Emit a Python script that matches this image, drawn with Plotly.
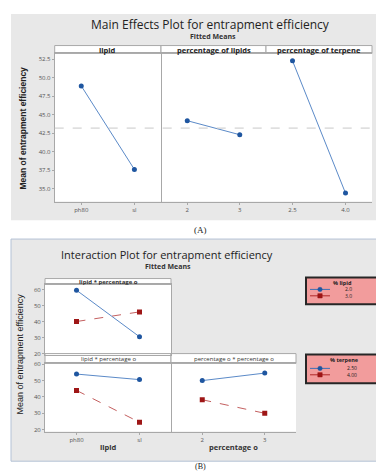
import plotly.graph_objects as go

W, H = 384, 471

# ---------------- data ----------------
# (A) main effects
lipid_levels = ["ph80", "sl"]
lipid_means = [48.9, 37.6]
pct_lipid_levels = ["2", "3"]
pct_lipid_means = [44.2, 42.3]
pct_terpene_levels = ["2.5", "4.0"]
pct_terpene_means = [52.3, 34.4]
grand_mean = 43.2
a_yticks = [35.0, 37.5, 40.0, 42.5, 45.0, 47.5, 50.0, 52.5]

# (B) interactions
b_lipid_levels = ["ph80", "sl"]
b_pct_levels = ["2", "3"]
lip_x_pctlip_20 = [59.5, 30.5]   # % lipid 2.0
lip_x_pctlip_30 = [40.0, 46.0]   # % lipid 3.0
lip_x_terp_250 = [54.0, 50.6]    # % terpene 2.50
lip_x_terp_400 = [44.0, 24.5]    # % terpene 4.00
pct_x_terp_250 = [50.0, 54.6]
pct_x_terp_400 = [38.3, 30.0]
b_yticks = [20, 30, 40, 50, 60]
legend1_title, legend1_labels = "% lipid", ["2.0", "3.0"]
legend2_title, legend2_labels = "% terpene", ["2.50", "4.00"]

BLUE_M = "#1f56a0"
BLUE_L = "#5b8ac8"
RED_M = "#9e1616"
RED_L = "#c46060"
GRAY_BG = "#e8e8e8"
BORDER = "#a8a8a8"
TICKF = dict(family="Open Sans, Arial", size=6, color="#555")


def px(x):
    return x / W


def py(y):
    return 1 - y / H


fig = go.Figure()


def add(xa, ya, xs, ys, color_m, color_l, symbol, dash):
    fig.add_trace(go.Scatter(
        x=xs, y=ys, xaxis=xa, yaxis=ya, mode="lines+markers",
        marker=dict(color=color_m, size=5, symbol=symbol),
        line=dict(color=color_l, width=1, dash=dash),
        showlegend=False, hoverinfo="x+y"))


# A traces
add("x", "y", lipid_levels, lipid_means, BLUE_M, BLUE_L, "circle", "solid")
add("x2", "y", pct_lipid_levels, pct_lipid_means, BLUE_M, BLUE_L, "circle", "solid")
add("x3", "y", pct_terpene_levels, pct_terpene_means, BLUE_M, BLUE_L, "circle", "solid")
# B traces
add("x4", "y2", b_lipid_levels, lip_x_pctlip_20, BLUE_M, BLUE_L, "circle", "solid")
add("x4", "y2", b_lipid_levels, lip_x_pctlip_30, RED_M, RED_L, "square", "dash")
add("x5", "y3", b_lipid_levels, lip_x_terp_250, BLUE_M, BLUE_L, "circle", "solid")
add("x5", "y3", b_lipid_levels, lip_x_terp_400, RED_M, RED_L, "square", "dash")
add("x6", "y3", b_pct_levels, pct_x_terp_250, BLUE_M, BLUE_L, "circle", "solid")
add("x6", "y3", b_pct_levels, pct_x_terp_400, RED_M, RED_L, "square", "dash")


def xaxis(dom, anchor, cats, showlabels=True):
    return dict(domain=dom, anchor=anchor, type="category", categoryorder="array",
                categoryarray=cats, range=[-0.5, 1.5], showgrid=False, zeroline=False,
                showline=True, mirror=True, linecolor=BORDER, linewidth=1,
                ticks="outside" if showlabels else "", ticklen=2, tickcolor=BORDER,
                tickfont=TICKF, showticklabels=showlabels, fixedrange=True)


def yaxis(dom, anchor, rng, ticks, fmt):
    return dict(domain=dom, anchor=anchor, range=rng, showgrid=False, zeroline=False,
                showline=True, mirror=True, linecolor=BORDER, linewidth=1,
                tickmode="array", tickvals=ticks, ticktext=[fmt.format(t) for t in ticks],
                ticks="outside", ticklen=2, tickcolor=BORDER, tickfont=TICKF,
                fixedrange=True)


# layout positions (pixels)
A_top, A_bot = 43, 193
A_x = [46.7, 153, 258, 364]
B_x = [37, 163, 288]
B1_top, B1_bot = 277, 348
B2_top, B2_bot = 357, 426

layout = dict(
    width=W, height=H, margin=dict(l=0, r=0, t=0, b=0),
    paper_bgcolor="white", plot_bgcolor="rgba(0,0,0,0)",
    xaxis=xaxis([px(A_x[0]), px(A_x[1])], "y", lipid_levels),
    xaxis2=xaxis([px(A_x[1]), px(A_x[2])], "y", pct_lipid_levels),
    xaxis3=xaxis([px(A_x[2]), px(A_x[3])], "y", pct_terpene_levels),
    yaxis=yaxis([py(A_bot), py(A_top)], "x", [33.26, 53.30], a_yticks, "{:.1f}"),
    xaxis4=xaxis([px(B_x[0]), px(B_x[1])], "y2", b_lipid_levels, showlabels=False),
    yaxis2=yaxis([py(B1_bot), py(B1_top)], "x4", [19.4, 63.1], b_yticks, "{:d}"),
    xaxis5=xaxis([px(B_x[0]), px(B_x[1])], "y3", b_lipid_levels),
    xaxis6=xaxis([px(B_x[1]), px(B_x[2])], "y3", b_pct_levels),
    yaxis3=yaxis([py(B2_bot), py(B2_top)], "x5", [18.8, 60.5], b_yticks, "{:d}"),
)
fig.update_layout(**layout)

shapes = []
ann = []


def rect(x0, y0, x1, y1, fill, line="rgba(0,0,0,0)", lw=0):
    shapes.append(dict(type="rect", xref="paper", yref="paper",
                       x0=px(x0), x1=px(x1), y0=py(y1), y1=py(y0),
                       fillcolor=fill, line=dict(color=line, width=lw), layer="below"))


def text(x, y, s, size, color="#222", family="Open Sans, Arial", bold=False,
         xanchor="center", angle=0):
    ann.append(dict(x=px(x), y=py(y), xref="paper", yref="paper", text=(f"<b>{s}</b>" if bold else s),
                    showarrow=False, xanchor=xanchor, yanchor="middle", textangle=angle,
                    borderpad=0,
                    font=dict(size=size, color=color, family=family)))


# backgrounds
rect(3, 3, 381, 212, GRAY_BG)
rect(3, 231, 380, 456, GRAY_BG, line="#b4c2d6", lw=1)
# white plot areas + strips
rect(A_x[0], 35, A_x[3], A_bot, "white")
rect(B_x[0], 271, B_x[1], B1_bot, "white")
rect(B_x[0], 347, B_x[2], B2_bot, "white")

# A strips
for i, lab in enumerate(["lipid", "percentage of lipids", "percentage of terpene"]):
    rect(A_x[i], 35, A_x[i + 1], A_top, "white", BORDER, 1)
    text((A_x[i] + A_x[i + 1]) / 2, 39, lab, 7.5, "#222", bold=True)
# B strips
rect(B_x[0], 271, B_x[1], B1_top, "white", BORDER, 1)
text((B_x[0] + B_x[1]) / 2, 274, "lipid * percentage o", 6, "#333", bold=True)
rect(B_x[0], 347, B_x[1], B2_top, "white", BORDER, 1)
text((B_x[0] + B_x[1]) / 2, 352, "lipid * percentage o", 6, "#333")
rect(B_x[1], 347, B_x[2], B2_top, "white", BORDER, 1)
text((B_x[1] + B_x[2]) / 2, 352, "percentage o * percentage o", 6, "#333")

# grand mean reference line in A
shapes.append(dict(type="line", xref="paper", yref="y", x0=px(A_x[0]), x1=px(A_x[3]),
                   y0=grand_mean, y1=grand_mean,
                   line=dict(color="#c8c8c8", width=1, dash="dash")))

# titles
text(202, 13.5, "Main Effects Plot for entrapment efficiency", 12, "#222")
text(205, 26, "Fitted Means", 7, "#333", bold=True)
text(15, 119, "Mean of entrapment efficiency", 8.5, "#222",
     family="Liberation Sans Narrow, Arial Narrow, Arial", bold=True, angle=-90)
text(192, 222, "(A)", 9, "#222", family="Liberation Serif, Times New Roman")

text(159, 247, "Interaction Plot for entrapment efficiency", 11, "#222")
text(160, 258.5, "Fitted Means", 7, "#333", bold=True)
text(12, 348, "Mean of entrapment efficiency", 9, "#222",
     family="Liberation Sans Narrow, Arial Narrow, Arial", angle=-90)
text(100, 442, "lipid", 7.5, "#333", bold=True)
text(225, 442, "percentage o", 7.5, "#333", bold=True)
text(192, 461.5, "(B)", 8, "#222", family="Liberation Serif, Times New Roman")

# legends (drawn)
PINK = "#f29c9c"


def legend_box(x0, y0, x1, y1, title, labels, ty, ly, tx):
    shapes.append(dict(type="rect", xref="paper", yref="paper", x0=px(x0), x1=px(x1),
                       y0=py(y1), y1=py(y0), fillcolor=PINK,
                       line=dict(color="#262626", width=2), layer="above"))
    text((x0 + x1) / 2, ty, title, 5.5, "#222", bold=True)
    for k, yy in enumerate(ly):
        col_l = "#3f6fb5" if k == 0 else "#b02828"
        col_m = BLUE_M if k == 0 else RED_M
        shapes.append(dict(type="line", xref="paper", yref="paper", x0=px(x0 + 4), x1=px(x0 + 24),
                           y0=py(yy), y1=py(yy), line=dict(color=col_l, width=1), layer="above"))
        cx = x0 + 14
        r = 2.2
        shapes.append(dict(type="circle" if k == 0 else "rect", xref="paper", yref="paper",
                           x0=px(cx - r), x1=px(cx + r), y0=py(yy + r), y1=py(yy - r),
                           fillcolor=col_m, line=dict(color=col_m, width=0.5), layer="above"))
    ann.append(dict(x=px(tx), y=py((ly[0] + ly[1]) / 2), xref="paper", yref="paper",
                    text="<br>".join(labels), showarrow=False, xanchor="right", yanchor="middle",
                    align="right", borderpad=0,
                    font=dict(size=5, color="#222", family="Open Sans, Arial")))


legend_box(298, 270, 371, 297, legend1_title, legend1_labels, 275.5, [282.0, 288.5], 345)
legend_box(298, 348, 375, 377, legend2_title, legend2_labels, 353.5, [362.0, 368.5], 350)

fig.update_layout(shapes=shapes, annotations=ann)
fig.write_html("out.html")
